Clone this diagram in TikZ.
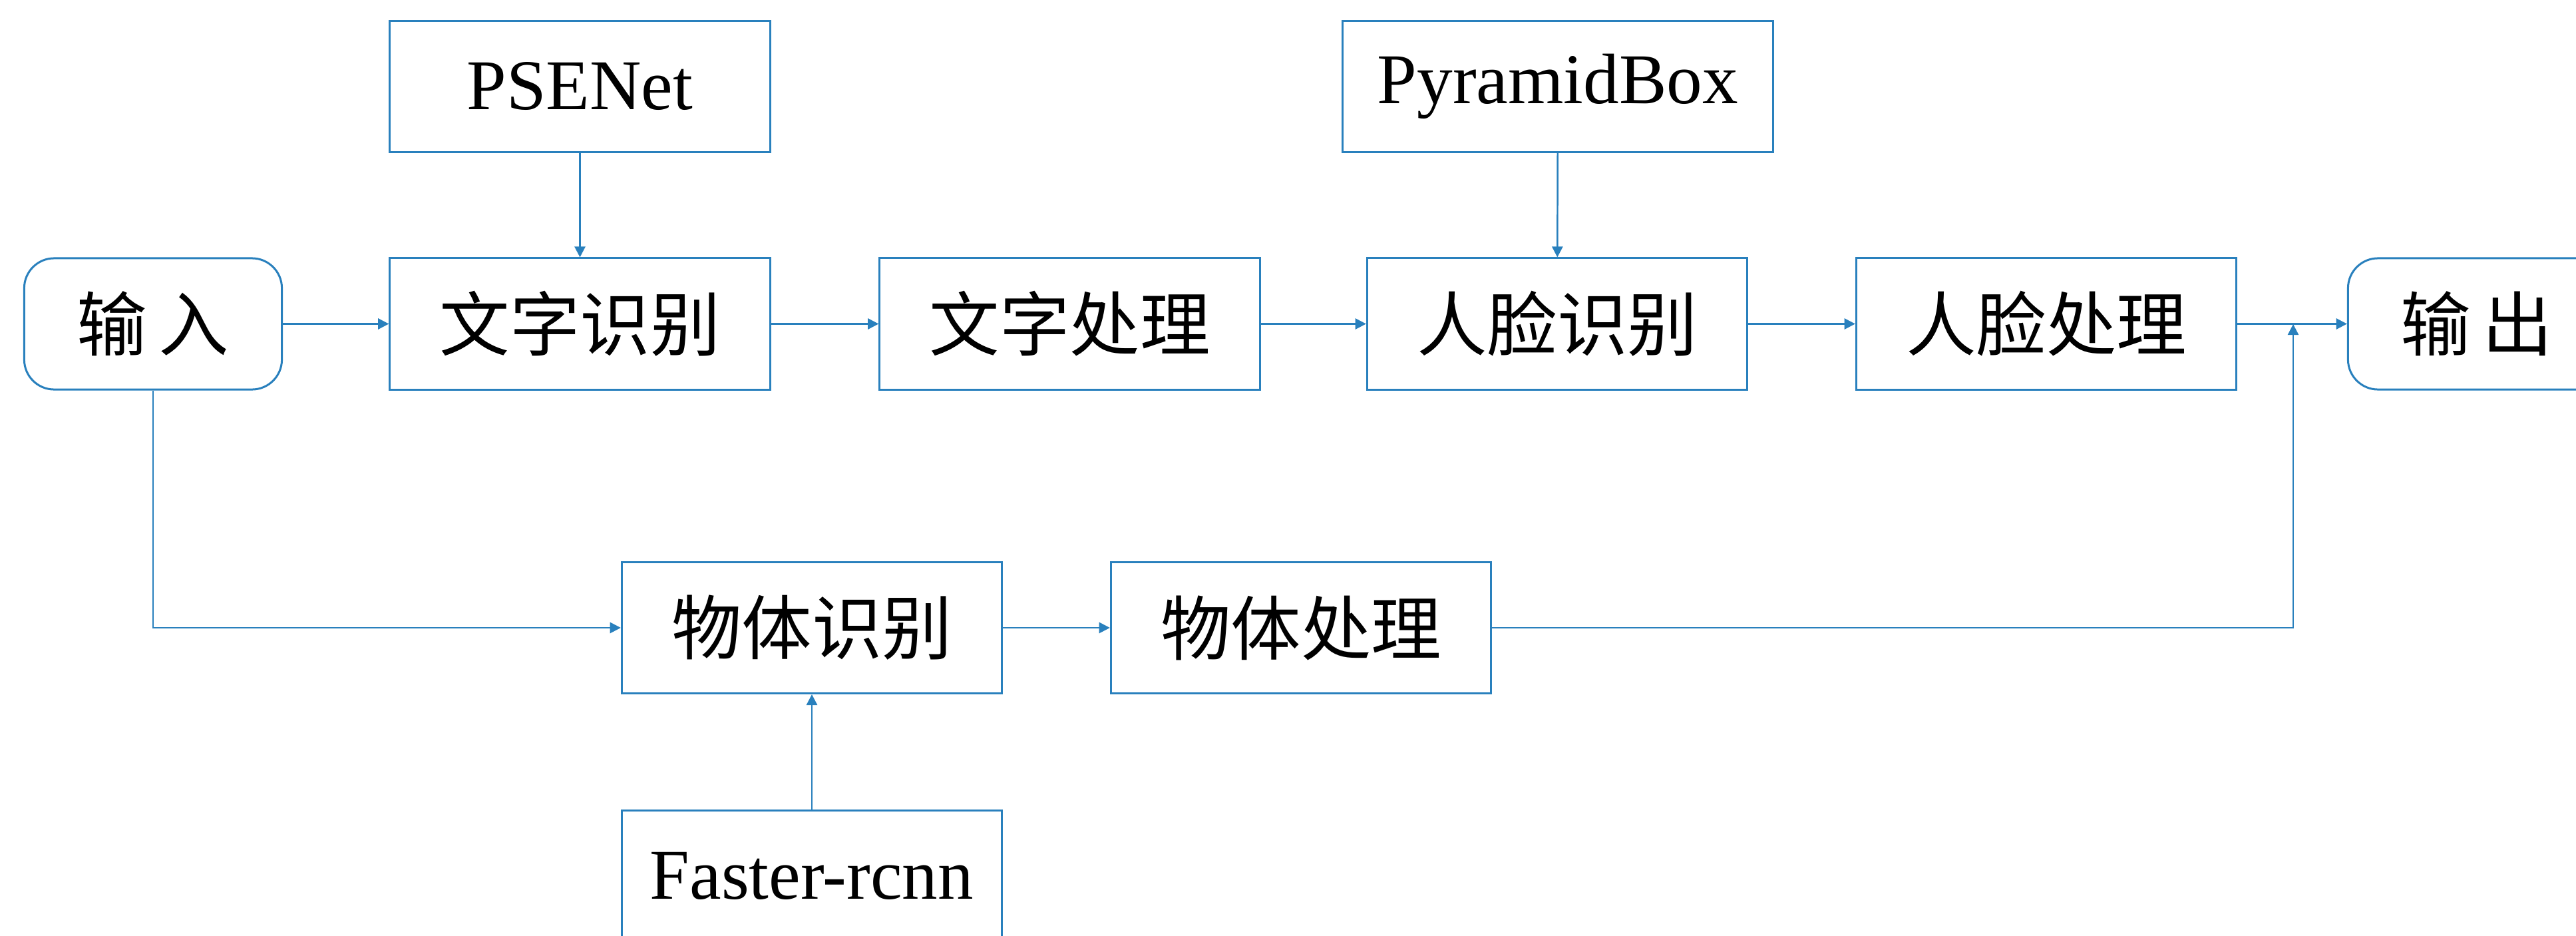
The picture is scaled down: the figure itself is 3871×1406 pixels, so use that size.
\documentclass[tikz,border=0pt]{standalone}
\usepackage{fontspec}
\setmainfont{Liberation Serif}
\newfontfamily\cjk{Noto Sans CJK SC}
\usetikzlibrary{arrows.meta}
\definecolor{lineblue}{RGB}{41,128,189}
\tikzset{
  box/.style={draw=lineblue, line width=0.85pt, rectangle, inner sep=0pt,
    minimum width=5.71cm, minimum height=1.97cm, font=\fontsize{30.5pt}{36pt}\selectfont, text=black},
  termbox/.style={box, rounded corners=0.45cm, minimum width=3.87cm},
  zh/.style={font=\fontsize{30pt}{36pt}\selectfont\cjk},
  conn/.style={draw=lineblue, line width=0.7pt, -{Triangle[length=4.6pt,width=4.6pt]}}
}
\begin{document}
\begin{tikzpicture}[x=0.01cm, y=-0.01cm]
\clip (0,0) rectangle (3871,1406);
\fill[white] (0,0) rectangle (3871,1406);
% top row
\node[termbox, zh] (in) at (230,486.5) {输\,入};
\node[box, zh] (txtrec) at (871.5,486.5) {文字识别};
\node[box, zh] (txtproc) at (1607.5,486.5) {文字处理};
\node[box, zh] (facerec) at (2340,486.5) {人脸识别};
\node[box, zh] (faceproc) at (3075,486.5) {人脸处理};
\node[termbox, zh] (out) at (3722,486.5) {输\,出};
% models
\node[box] (psenet) at (871.5,130) {PSENet};
\node[box, minimum width=6.46cm] (pyramid) at (2341,130) {PyramidBox};
\node[box] (faster) at (1220,1316) {Faster-rcnn};
% bottom row
\node[box, zh] (objrec) at (1220,943) {物体识别};
\node[box, zh] (objproc) at (1955,943) {物体处理};
\coordinate (join) at (3446,487);
% connectors
\draw[conn] (in) -- (txtrec);
\draw[conn] (txtrec) -- (txtproc);
\draw[conn] (txtproc) -- (facerec);
\draw[conn] (facerec) -- (faceproc);
\draw[conn] (faceproc) -- (out);
\draw[conn] (psenet) -- (txtrec);
\draw[conn] (pyramid) -- (facerec);
\draw[conn] (in.south) |- (objrec.west);
\draw[conn] (objrec) -- (objproc);
\draw[conn] (faster) -- (objrec);
\draw[conn] (objproc.east) -| (join);
\end{tikzpicture}
\end{document}
